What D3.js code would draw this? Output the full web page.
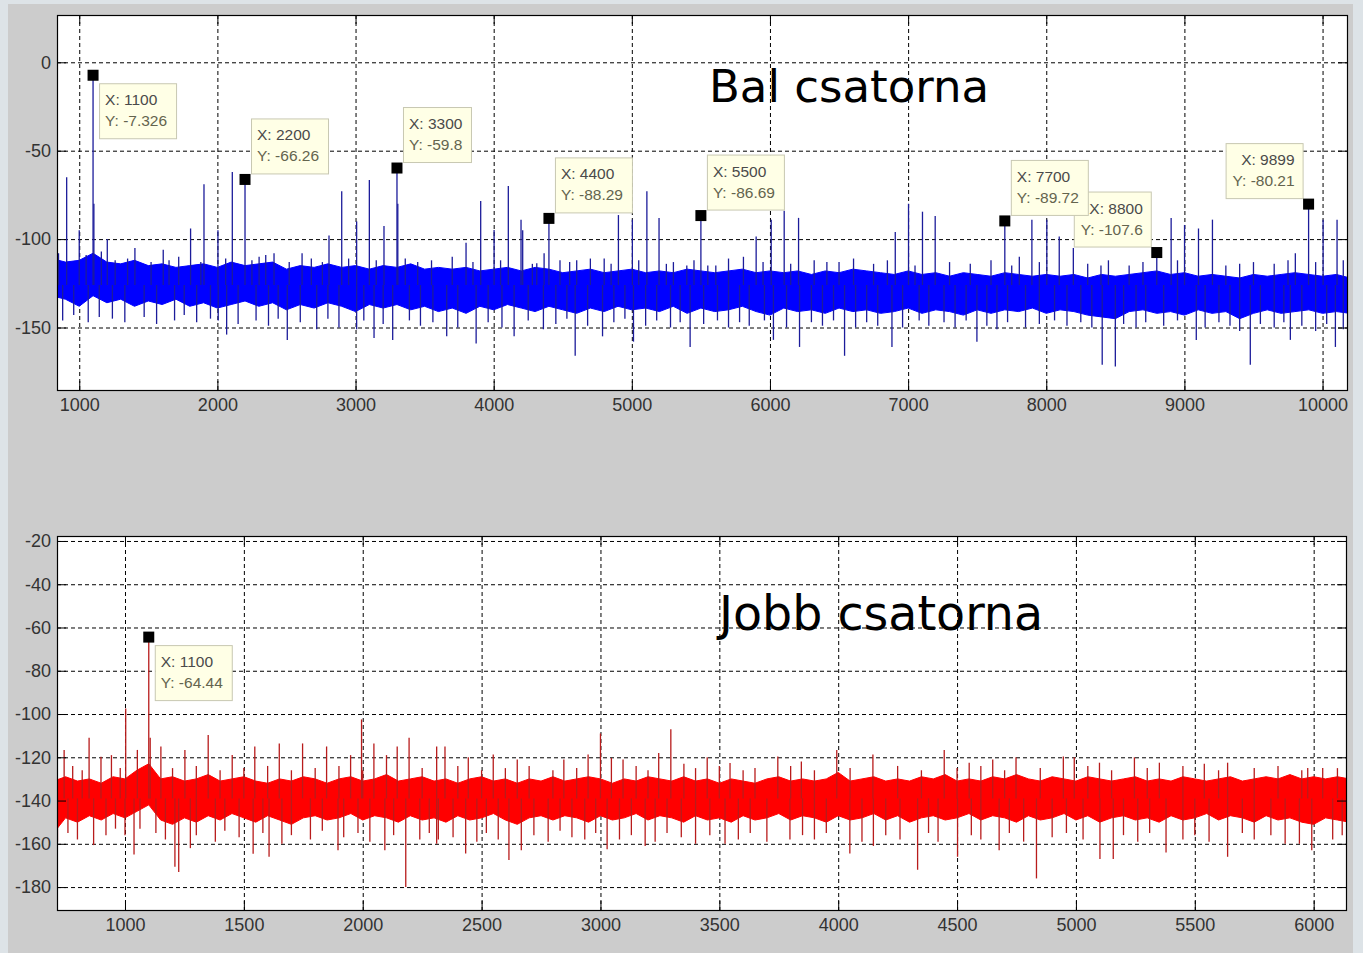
<!DOCTYPE html>
<html lang="en">
<head>
<meta charset="utf-8">
<title>Bal / Jobb csatorna</title>
<script src="https://cdn.jsdelivr.net/npm/d3@7"></script>
<style>
body { margin: 0; background: #dde3e7; }
text { font-family: "Liberation Sans", Arial, sans-serif; }
.tick text { font-size: 18px; fill: #333; }
.tick line { stroke: #000; }
.grid line { stroke: #000; stroke-dasharray: 4,3; stroke-width: 1; }
.title { font-family: "DejaVu Sans", sans-serif; fill: #000; }
.tip rect.box { fill: #ffffe6; stroke: #c8c8b2; }
.tip text { font-size: 15.5px; }
</style>
</head>
<body>
<script>
// ---- bal csatorna (left channel), frequency in Hz, level in dB ----
var leftXTicks = [1000, 2000, 3000, 4000, 5000, 6000, 7000, 8000, 9000, 10000];
var leftYTicks = [0, -50, -100, -150];

// noise floor, sampled every 100 Hz from 800 to 10200
var leftNoiseHi = [
  -111,-113,-112,-108,-113,-114,-112,-115,-114,-116,
  -115,-114,-116,-113,-115,-114,-113,-117,-115,-116,
  -114,-116,-115,-117,-115,-116,-114,-117,-116,-117,
  -116,-118,-117,-116,-118,-116,-117,-119,-118,-117,
  -119,-118,-117,-119,-118,-119,-117,-118,-119,-118,
  -117,-119,-118,-119,-118,-120,-118,-119,-117,-118,
  -119,-120,-118,-120,-119,-121,-119,-120,-121,-119,
  -120,-121,-120,-121,-120,-122,-120,-121,-120,-119,
  -118,-120,-119,-121,-120,-121,-122,-120,-121,-120,
  -119,-120,-121,-120,-122];
var leftNoiseLo = [
  -132,-134,-138,-132,-136,-134,-138,-135,-137,-134,
  -138,-136,-139,-137,-135,-138,-136,-140,-137,-139,
  -136,-138,-141,-137,-139,-137,-140,-138,-141,-139,
  -142,-138,-140,-137,-139,-141,-138,-140,-142,-139,
  -141,-138,-140,-139,-141,-138,-142,-139,-141,-140,
  -138,-141,-143,-139,-141,-140,-142,-139,-141,-140,
  -142,-141,-139,-142,-140,-141,-143,-140,-142,-140,
  -141,-139,-142,-140,-141,-143,-144,-145,-141,-140,
  -142,-141,-143,-140,-142,-141,-145,-142,-140,-142,
  -141,-140,-142,-141,-142];

// tones and spurs [Hz, dB]
var leftPeaks = [
  [909,-65],[1000,-95],[1100,-7.3],[1106,-80],[1203,-100],[1403,-105],[1608,-106],
  [1806,-94],[1903,-69],[2004,-95],[2108,-62],[2200,-66.3],[2302,-110],[2410,-108],
  [2613,-108],[2808,-98],[2900,-73],[3008,-90],[3100,-66.6],[3206,-92.6],[3300,-59.8],
  [3306,-80],[3800,-102],[3906,-78.5],[4003,-94.8],[4106,-70],[4198,-89],[4210,-95],
  [4312,-113.6],[4365,-108],[4400,-88.3],[4601,-112],[4800,-111],[4903,-86.4],[5004,-89],
  [5109,-73],[5197,-88],[5301,-113],[5398,-115],[5500,-86.7],[5608,-115],[5808,-110],
  [5900,-98.6],[6009,-89],[6103,-84],[6207,-88],[6412,-113],[6605,-111],[6907,-96],
  [7003,-80],[7104,-84.5],[7196,-87],[7700,-89.7],[7805,-110],[7896,-89],[8004,-89],
  [8094,-98.6],[8196,-105],[8396,-115],[8800,-107.6],[8904,-88],[9001,-92],[9102,-94],
  [9203,-89],[9803,-108],[9899,-80.2],[10004,-89],[10105,-89]];
var leftGrassUp = [
  [850,-108],[1050,-109],[1160,-107],[1260,-112],[1350,-111],[1520,-113],[1650,-112],
  [1720,-110],[1880,-113],[2060,-111],[2250,-112],[2350,-109],[2520,-113],[2680,-111],
  [2760,-113],[2950,-111],[3150,-112],[3360,-111],[3450,-113],[3550,-112],[3700,-110],
  [3850,-113],[4050,-112],[4280,-114],[4480,-112],[4550,-113],[4700,-111],[4850,-114],
  [5050,-112],[5250,-114],[5450,-112],[5550,-115],[5700,-111],[5950,-113],[6150,-114],
  [6320,-112],[6500,-113],[6750,-114],[6850,-112],[7050,-115],[7300,-113],[7450,-114],
  [7600,-112],[7750,-115],[7950,-113],[8300,-114],[8450,-112],[8600,-115],[8700,-113],
  [8950,-112],[9300,-115],[9400,-114],[9500,-113],[9650,-114],[9750,-112],[9950,-113],
  [10150,-112]];
var leftDips = [
  [1065,-147],[1145,-144],[2006,-146],[2067,-154],[2506,-157],[2719,-151],[3008,-151],
  [3134,-156],[3269,-157],[3660,-155],[3873,-159],[4148,-155],[4360,-151],[4590,-166],
  [4788,-155],[5012,-158],[5422,-161],[6025,-157],[6214,-161],[6540,-166],[6883,-161],
  [7498,-158],[7643,-151],[8405,-171],[8500,-172],[9086,-157],[9477,-171],[9767,-157],
  [10093,-161],
  [880,-146],[960,-143],[1240,-145],[1330,-147],[1470,-144],[1560,-148],[1690,-146],
  [1760,-143],[1850,-147],[1950,-145],[2150,-148],[2280,-146],[2370,-149],[2440,-145],
  [2600,-147],[2800,-145],[2880,-150],[3060,-146],[3200,-148],[3390,-146],[3470,-149],
  [3560,-147],[3740,-150],[3960,-147],[4060,-150],[4250,-146],[4450,-148],[4530,-145],
  [4680,-149],[4870,-147],[4950,-145],[5100,-149],[5180,-146],[5280,-150],[5350,-147],
  [5520,-148],[5620,-146],[5700,-150],[5780,-147],[5850,-149],[5960,-146],[6120,-150],
  [6300,-147],[6380,-149],[6460,-146],[6620,-150],[6700,-147],[6780,-149],[6960,-150],
  [7080,-146],[7150,-149],[7260,-147],[7340,-150],[7420,-146],[7570,-149],[7720,-147],
  [7850,-150],[7950,-148],[8060,-146],[8150,-149],[8250,-147],[8330,-150],[8560,-148],
  [8650,-150],[8720,-147],[8850,-149],[8950,-146],[9150,-150],[9250,-147],[9330,-149],
  [9400,-152],[9550,-148],[9650,-150],[9720,-147],[9850,-149],[9950,-152],[10030,-148],
  [10150,-151]];

// data tips
var leftTipX = [1100, 2200, 3300, 4400, 5500, 7700, 8800, 9899];
var leftTipY = [-7.326, -66.26, -59.8, -88.29, -86.69, -89.72, -107.6, -80.21];
var leftTipSide = ["se", "ne", "ne", "ne", "ne", "ne", "nw", "nw"];

// ---- jobb csatorna (right channel) ----
var rightXTicks = [1000, 1500, 2000, 2500, 3000, 3500, 4000, 4500, 5000, 5500, 6000];
var rightYTicks = [-20, -40, -60, -80, -100, -120, -140, -160, -180];

// noise floor, sampled every 50 Hz from 700 to 6150
var rightNoiseHi = [
  -131,-129,-131,-130,-132,-129,-130,-126,-123,-130,
  -129,-131,-130,-128,-131,-130,-129,-131,-132,-130,
  -131,-129,-130,-132,-130,-129,-131,-130,-128,-131,
  -130,-129,-131,-130,-132,-130,-129,-131,-130,-132,
  -130,-131,-129,-131,-130,-129,-130,-132,-130,-131,
  -129,-130,-131,-129,-131,-130,-132,-130,-131,-132,
  -130,-129,-131,-130,-131,-130,-127,-131,-130,-129,
  -131,-130,-131,-129,-130,-128,-131,-130,-131,-129,
  -130,-128,-130,-131,-129,-130,-131,-129,-130,-131,
  -130,-129,-131,-130,-131,-129,-130,-131,-130,-129,
  -131,-130,-129,-130,-128,-130,-129,-130,-129,-130];
var rightNoiseLo = [
  -155,-148,-150,-147,-149,-146,-148,-145,-142,-149,
  -151,-148,-150,-147,-149,-146,-148,-150,-147,-149,
  -151,-148,-147,-149,-148,-146,-149,-147,-148,-150,
  -147,-149,-148,-150,-147,-149,-148,-146,-149,-151,
  -148,-147,-149,-147,-148,-150,-147,-149,-148,-146,
  -149,-147,-148,-150,-147,-149,-148,-150,-147,-149,
  -148,-146,-149,-147,-148,-150,-147,-149,-148,-146,
  -149,-147,-150,-148,-147,-149,-148,-146,-149,-147,
  -148,-150,-147,-149,-148,-146,-149,-147,-150,-148,
  -147,-149,-148,-150,-147,-149,-148,-146,-149,-147,
  -148,-150,-147,-149,-148,-150,-151,-148,-149,-150];

var rightPeaks = [
  [744,-116.6],[849,-111],[899,-119.7],[943,-119],[1003,-97.4],[1052,-116.6],[1100,-64.4],
  [1106,-111],[1151,-115],[1252,-116.6],[1350,-109.7],[1451,-119],[1546,-115],[1649,-113.6],
  [1747,-113.6],[1848,-115],[1949,-119],[1995,-102.5],[2047,-113.6],[2100,-119],[2145,-115],
  [2195,-111],[2311,-115],[2346,-115],[2444,-120],[2549,-118.7],[2650,-121],[2846,-121],
  [2948,-118.7],[3000,-109],[3046,-120.3],[3095,-121],[3245,-118],[3296,-107],[3351,-123],
  [3449,-120],[3545,-122.6],[3746,-119.6],[3845,-122],[3994,-116.6],[4146,-118.7],
  [4446,-116.6],[4551,-122.5],[4650,-121],[4748,-120],[4947,-119.6],[4993,-120],
  [5099,-122.5],[5246,-120],[5351,-122.5],[5540,-123],[5638,-122.5],[5975,-125],[6038,-125]];
var rightGrassUp = [
  [780,-124],[820,-126],[980,-125],[1200,-125],[1300,-124],[1400,-126],[1500,-125],
  [1600,-124],[1700,-126],[1800,-125],[1900,-124],[2000,-126],[2250,-125],[2400,-124],
  [2500,-126],[2600,-125],[2700,-124],[2800,-126],[2900,-125],[3150,-124],[3200,-126],
  [3400,-125],[3500,-124],[3600,-126],[3650,-125],[3800,-124],[3900,-126],[4050,-125],
  [4250,-124],[4350,-126],[4500,-125],[4600,-124],[4700,-126],[4850,-125],[5050,-124],
  [5150,-126],[5300,-125],[5450,-124],[5600,-126],[5750,-125],[5850,-124],[5950,-126],
  [6100,-125]];
var rightDips = [
  [716,-159],[868,-160.6],[1000,-156],[1038,-165],[1063,-153],[1210,-170.6],[1226,-173],
  [1275,-162],[1539,-164.6],[1606,-166],[1896,-163],[2093,-163],[2181,-180],[2311,-160],
  [2318,-158],[2433,-164.5],[2615,-167.5],[2667,-163],[2934,-158],[3028,-162.5],[3188,-161],
  [3524,-160],[3797,-158],[4049,-164.5],[4148,-161],[4334,-172],[4502,-166],[4677,-163],
  [4834,-176],[5101,-167],[5157,-167],[5379,-164],[5638,-166],[5940,-160],[5992,-163],
  [760,-155],[800,-158],[920,-156],[960,-153],[1130,-155],[1170,-158],[1300,-156],
  [1380,-159],[1420,-154],[1480,-157],[1580,-155],[1660,-160],[1700,-156],[1780,-158],
  [1830,-154],[1920,-157],[1980,-155],[2030,-159],[2130,-156],[2240,-158],[2280,-155],
  [2380,-157],[2480,-159],[2520,-155],[2570,-158],[2720,-156],[2780,-159],[2830,-154],
  [2880,-157],[2980,-155],[3080,-158],[3130,-156],[3230,-159],[3280,-155],[3340,-157],
  [3400,-160],[3460,-156],[3580,-158],[3630,-155],[3700,-159],[3850,-156],[3900,-158],
  [3950,-155],[4100,-159],[4200,-156],[4260,-158],[4380,-155],[4420,-159],[4560,-156],
  [4600,-158],[4720,-155],[4780,-159],[4900,-157],[4960,-155],[5030,-158],[5200,-156],
  [5260,-159],[5310,-155],[5450,-158],[5500,-156],[5560,-159],[5700,-155],[5750,-158],
  [5820,-156],[5880,-160],[6080,-158],[6120,-156]];

var rightTipX = [1100];
var rightTipY = [-64.44];
var rightTipSide = ["se"];

var W = 1363, H = 953;

var svg = d3.select("body").append("svg")
    .attr("width", W)
    .attr("height", H);

// slide background + matlab figure
svg.append("rect").attr("width", W).attr("height", H).attr("fill", "#dde3e7");
svg.append("rect").attr("x", 8).attr("y", 4).attr("width", 1345).attr("height", H - 4)
    .attr("fill", "#cccccc");

function fmt(d) { return String(d); }

function panel(o) {
    var x = d3.scaleLinear().domain(o.xDomain).range([o.left, o.right]);
    var y = d3.scaleLinear().domain(o.yDomain).range([o.bottom, o.top]);
    var g = svg.append("g");
    var pw = o.right - o.left, ph = o.bottom - o.top;

    g.append("rect")
        .attr("x", o.left).attr("y", o.top)
        .attr("width", pw).attr("height", ph)
        .attr("fill", "#fff");

    g.append("clipPath").attr("id", o.id + "-clip")
      .append("rect")
        .attr("x", o.left).attr("y", o.top)
        .attr("width", pw).attr("height", ph);

    // grid
    var grid = g.append("g").attr("class", "grid");
    grid.selectAll("line.gx").data(o.xTicks).join("line")
        .attr("class", "gx")
        .attr("x1", d => x(d) + 0.5).attr("x2", d => x(d) + 0.5)
        .attr("y1", o.top).attr("y2", o.bottom);
    grid.selectAll("line.gy").data(o.yTicks).join("line")
        .attr("class", "gy")
        .attr("x1", o.left).attr("x2", o.right)
        .attr("y1", d => y(d) + 0.5).attr("y2", d => y(d) + 0.5);

    // spectrum
    var plot = g.append("g").attr("clip-path", "url(#" + o.id + "-clip)");
    var freqs = d3.range(o.hi.length).map(i => o.noiseStart + i * o.noiseStep);
    var band = d3.area()
        .x((d, i) => x(freqs[i]))
        .y0((d, i) => y(o.lo[i]))
        .y1((d, i) => y(o.hi[i]));
    plot.append("path")
        .datum(o.hi)
        .attr("d", band)
        .attr("fill", o.fill)
        .attr("stroke", o.fill)
        .attr("stroke-width", 1);

    var spikes = o.grassUp.concat(o.dips, o.peaks);
    plot.selectAll("line.spike").data(spikes).join("line")
        .attr("class", "spike")
        .attr("x1", d => x(d[0])).attr("x2", d => x(d[0]))
        .attr("y1", y(o.base)).attr("y2", d => y(d[1]))
        .attr("stroke", o.stroke)
        .attr("stroke-width", 1.3);

    // axes with inward ticks
    g.append("g").attr("transform", "translate(0," + o.bottom + ")")
        .call(d3.axisBottom(x).tickValues(o.xTicks).tickFormat(fmt)
            .tickSizeInner(-9).tickSizeOuter(0).tickPadding(8));
    g.append("g").attr("transform", "translate(0," + o.top + ")")
        .call(d3.axisTop(x).tickValues(o.xTicks).tickFormat("")
            .tickSizeInner(-9).tickSizeOuter(0));
    g.append("g").attr("transform", "translate(" + o.left + ",0)")
        .call(d3.axisLeft(y).tickValues(o.yTicks).tickFormat(fmt)
            .tickSizeInner(-9).tickSizeOuter(0).tickPadding(6));
    g.append("g").attr("transform", "translate(" + o.right + ",0)")
        .call(d3.axisRight(y).tickValues(o.yTicks).tickFormat("")
            .tickSizeInner(-9).tickSizeOuter(0));
    g.selectAll(".domain").remove();
    g.selectAll(".tick text").attr("font-family", null);

    g.append("rect")
        .attr("x", o.left + 0.5).attr("y", o.top + 0.5)
        .attr("width", pw).attr("height", ph)
        .attr("fill", "none").attr("stroke", "#000").attr("stroke-width", 1.2);

    // title
    g.append("text")
        .attr("class", "title")
        .attr("x", o.titleX).attr("y", o.titleY)
        .attr("font-size", o.titleSize)
        .text(o.title);

    // data tips, drawn last-first so earlier tips sit on top
    var tips = o.tipX.map((f, i) => ({ f: f, v: o.tipY[i], side: o.tipSide[i] })).reverse();
    tips.forEach(function (t) {
        var mx = x(t.f), my = y(t.v);
        var tg = g.append("g").attr("class", "tip");
        var box = tg.append("rect").attr("class", "box");
        var lx = tg.append("text").attr("fill", "#4a4a4a").text("X: " + t.f);
        var ly = tg.append("text").attr("fill", "#64644e").text("Y: " + t.v);
        var tw = Math.max(lx.node().getComputedTextLength(), ly.node().getComputedTextLength());
        var bw = Math.round(tw + 15), bh = 55;
        var bx = t.side === "nw" ? mx - 6 - bw : mx + 6;
        var by = t.side === "se" ? my + 8 : my - 61;
        box.attr("x", bx + 0.5).attr("y", by + 0.5).attr("width", bw).attr("height", bh);
        if (t.side === "nw") {
            lx.attr("x", bx + bw - 8).attr("text-anchor", "end");
            ly.attr("x", bx + bw - 8).attr("text-anchor", "end");
        } else {
            lx.attr("x", bx + 6);
            ly.attr("x", bx + 6);
        }
        lx.attr("y", by + 22);
        ly.attr("y", by + 43);
        g.append("rect")
            .attr("x", mx - 5.5).attr("y", my - 5.5)
            .attr("width", 11).attr("height", 11)
            .attr("fill", "#000");
    });
}

panel({
    id: "bal",
    left: 57, right: 1347, top: 15, bottom: 390,
    xDomain: [839, 10177], yDomain: [-185.35, 26.75],
    xTicks: leftXTicks, yTicks: leftYTicks,
    hi: leftNoiseHi, lo: leftNoiseLo, noiseStart: 800, noiseStep: 100,
    peaks: leftPeaks, grassUp: leftGrassUp, dips: leftDips, base: -126,
    fill: "#0000ff", stroke: "#1c1c9a",
    tipX: leftTipX, tipY: leftTipY, tipSide: leftTipSide,
    title: "Bal csatorna", titleX: 709, titleY: 102, titleSize: 45
});

panel({
    id: "jobb",
    left: 57, right: 1346, top: 536, bottom: 910,
    xDomain: [714, 6136], yDomain: [-190.6, -17.7],
    xTicks: rightXTicks, yTicks: rightYTicks,
    hi: rightNoiseHi, lo: rightNoiseLo, noiseStart: 700, noiseStep: 50,
    peaks: rightPeaks, grassUp: rightGrassUp, dips: rightDips, base: -139,
    fill: "#ff0000", stroke: "#b81c1c",
    tipX: rightTipX, tipY: rightTipY, tipSide: rightTipSide,
    title: "Jobb csatorna", titleX: 719, titleY: 630, titleSize: 47.5
});
</script>
</body>
</html>
